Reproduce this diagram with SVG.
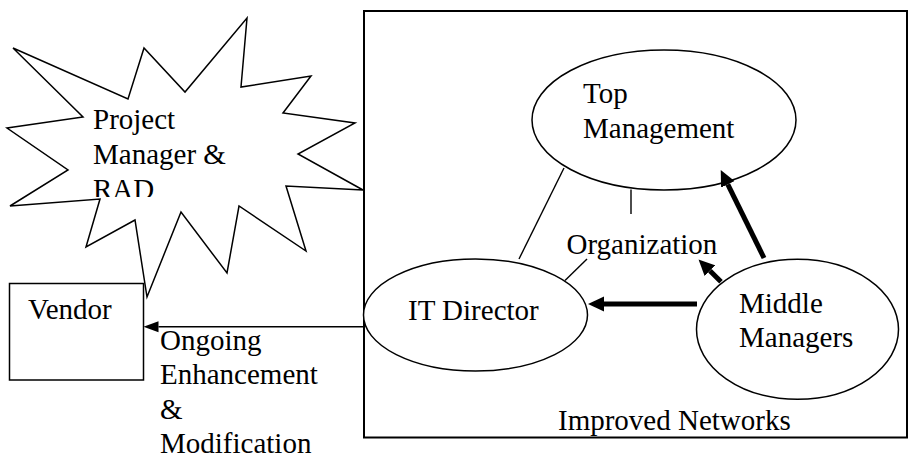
<svg xmlns="http://www.w3.org/2000/svg" width="908" height="454" viewBox="0 0 908 454">
  <style>
    .t { font-family: "Liberation Serif", "Times New Roman", serif; font-size: 29px; fill: #000; }
    .shape { fill: #fff; stroke: #000; stroke-width: 1.5; }
    .thin { fill: none; stroke: #000; stroke-width: 1.4; }
    .thick { fill: none; stroke: #000; stroke-width: 5; }
  </style>
  <defs>
    <marker id="headBig" markerUnits="userSpaceOnUse" markerWidth="18" markerHeight="16" viewBox="0 -8 18 16" refX="0" refY="0" orient="auto">
      <path d="M0,-7.5 L16,0 L0,7.5 Z" fill="#000"/>
    </marker>
    <marker id="headSmall" markerUnits="userSpaceOnUse" markerWidth="16" markerHeight="12" viewBox="0 -6 16 12" refX="0" refY="0" orient="auto">
      <path d="M0,-5.5 L15,0 L0,5.5 Z" fill="#000"/>
    </marker>
    <clipPath id="burstClip">
      <rect x="0" y="0" width="370" height="197"/>
    </clipPath>
  </defs>

  <g id="network-box">
    <rect x="364" y="11" width="543" height="426.5" fill="none" stroke="#000" stroke-width="2"/>
    <text class="t" x="558" y="430">Improved Networks</text>
  </g>

  <g id="project-manager-rad">
    <polygon class="shape" points="13,48 128,99 144,48 185,92 247,18 241,87 311,76 283,113 355,123 298,154 363,190 286,186 306,251 239,206 227,273 181,212 147,297 135,220 86,247 100,199 10,206 68,170 7,128 83,117"/>
    <g clip-path="url(#burstClip)">
      <text class="t" x="93" y="129">Project</text>
      <text class="t" x="93" y="164">Manager &amp;</text>
      <text class="t" x="93" y="199">RAD</text>
    </g>
  </g>

  <g id="vendor">
    <rect class="shape" x="9.5" y="283.5" width="134" height="96.5"/>
    <text class="t" x="28" y="319">Vendor</text>
  </g>

  <g id="top-management">
    <ellipse class="shape" cx="664" cy="120" rx="132" ry="70"/>
    <text class="t" x="583" y="103">Top</text>
    <text class="t" x="583" y="137.5">Management</text>
  </g>

  <g id="organization">
    <text class="t" x="566.5" y="254">Organization</text>
  </g>

  <g id="it-director">
    <ellipse class="shape" cx="475.5" cy="315" rx="112" ry="56"/>
    <text class="t" x="408" y="320">IT Director</text>
  </g>

  <g id="middle-managers">
    <ellipse class="shape" cx="797.5" cy="329.3" rx="101" ry="70"/>
    <text class="t" x="739" y="312.5">Middle</text>
    <text class="t" x="739" y="346.5">Managers</text>
  </g>

  <g id="connectors">
    <line class="thin" x1="564" y1="168" x2="519" y2="259"/>
    <line class="thin" x1="631" y1="189.5" x2="631" y2="214"/>
    <line class="thin" x1="565" y1="280.5" x2="587" y2="259"/>
    <line class="thick" x1="764" y1="258" x2="727.8" y2="184.4" marker-end="url(#headBig)"/>
    <line class="thick" x1="721" y1="281.7" x2="709.9" y2="270.7" marker-end="url(#headBig)"/>
    <line class="thick" x1="697" y1="304" x2="604" y2="304" marker-end="url(#headBig)"/>
    <line class="thin" x1="363.5" y1="326.7" x2="158.5" y2="326.7" stroke-width="1.6" marker-end="url(#headSmall)"/>
    <g id="connector-label">
      <text class="t" x="160" y="350">Ongoing</text>
      <text class="t" x="160" y="384.3">Enhancement</text>
      <text class="t" x="160" y="418.5">&amp;</text>
      <text class="t" x="160" y="452.7">Modification</text>
    </g>
  </g>
</svg>
